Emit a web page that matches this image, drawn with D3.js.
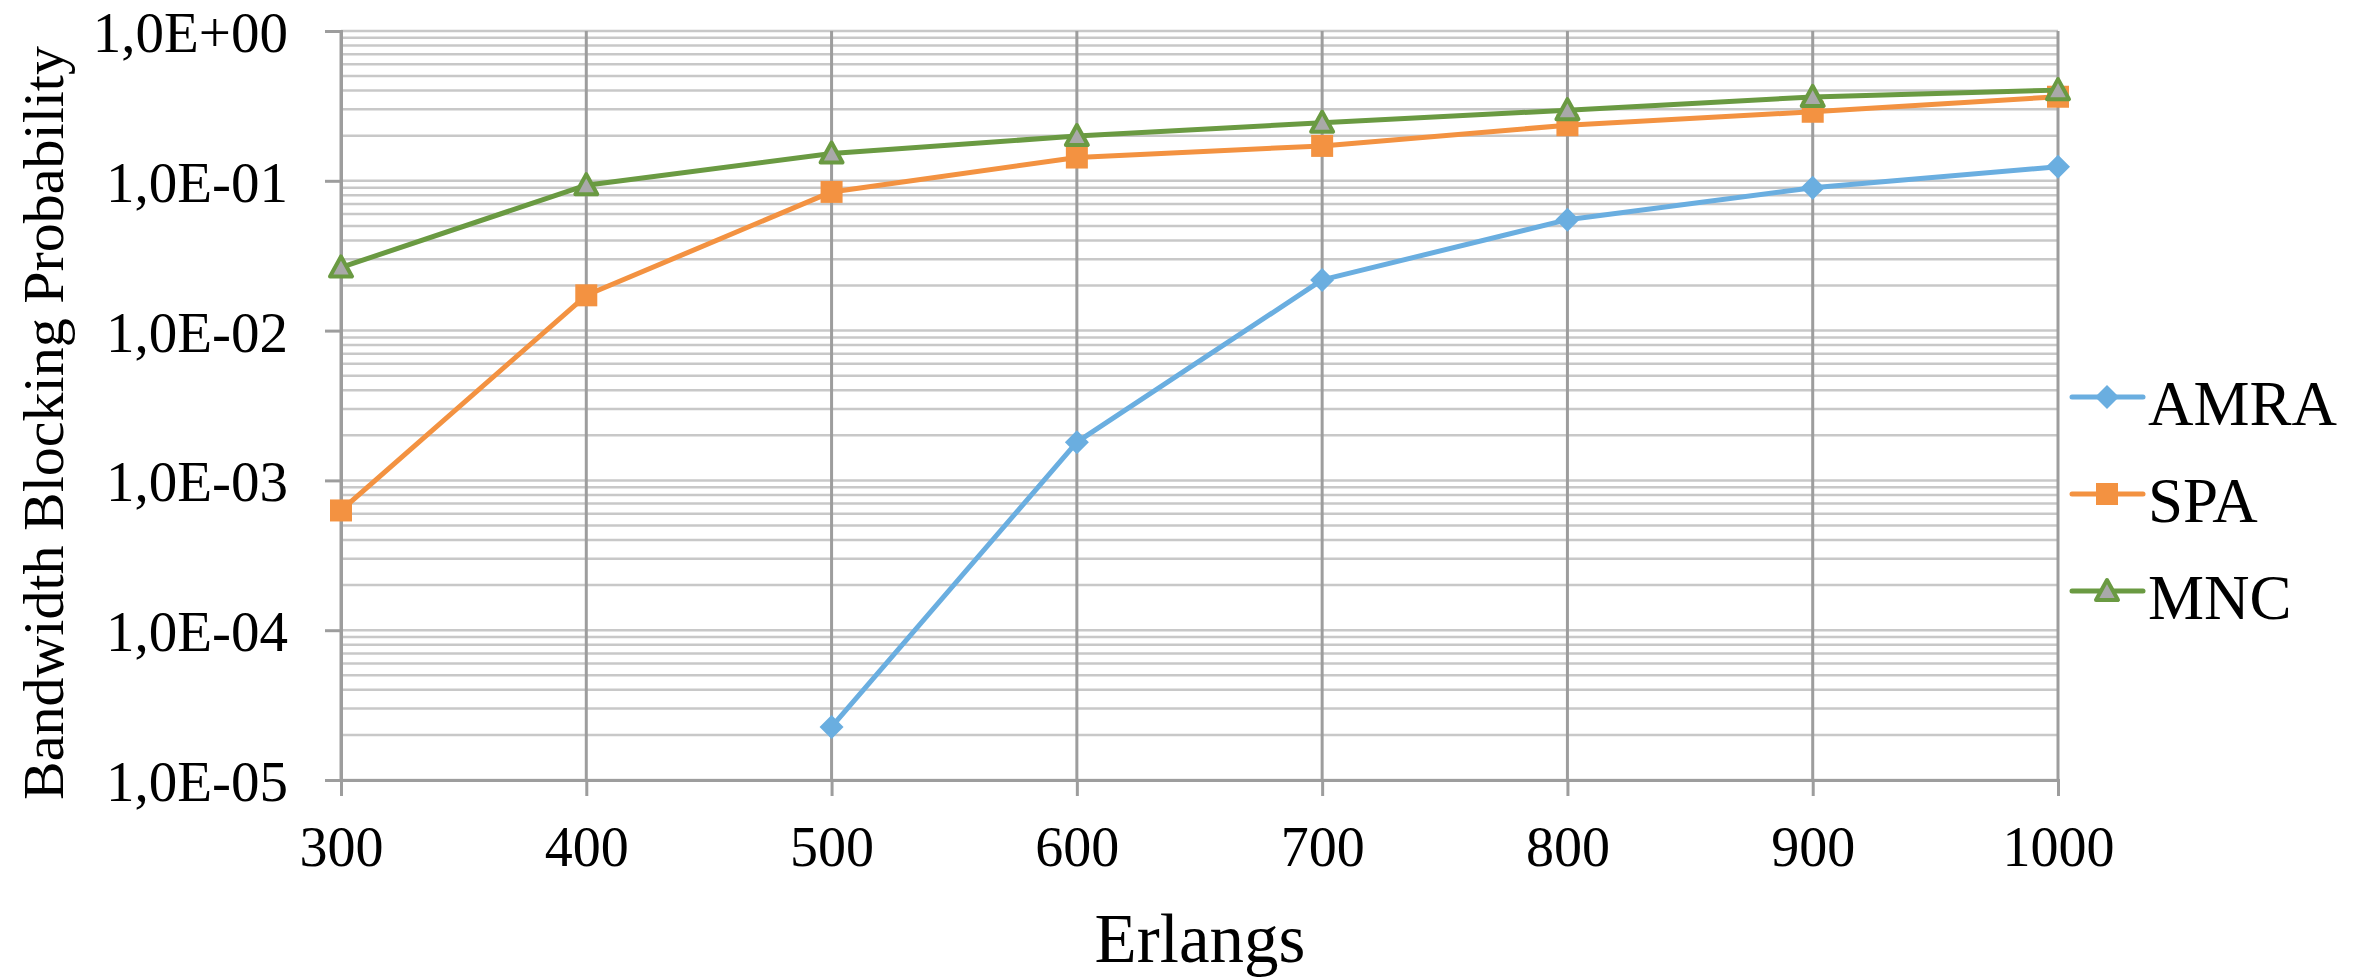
<!DOCTYPE html>
<html>
<head>
<meta charset="utf-8">
<script src="https://cdn.jsdelivr.net/npm/d3@7/dist/d3.min.js"></script>
<style>
  html, body { margin: 0; padding: 0; background: #fff; }
  svg { display: block; font-family: "Liberation Serif", "Times New Roman", serif; }
</style>
</head>
<body>
<svg id="chart" width="2369" height="980"></svg>
<script>
// data
const erlangs = [300, 400, 500, 600, 700, 800, 900, 1000];
const amra = [null, null, 2.26e-5, 1.8e-3, 0.0218, 0.055, 0.09, 0.124];
const spa = [6.3e-4, 0.0172, 0.0843, 0.143, 0.171, 0.235, 0.289, 0.364];
const mnc = [0.0264, 0.0935, 0.152, 0.199, 0.244, 0.296, 0.363, 0.403];
const yDecades = [1e-5, 1e-4, 1e-3, 1e-2, 1e-1, 1];

const series = [
  { name: "AMRA", values: amra, color: "#6aaee0", marker: "diamond" },
  { name: "SPA", values: spa, color: "#f39241", marker: "square" },
  { name: "MNC", values: mnc, color: "#6a9a42", marker: "triangle" },
];

const svg = d3.select("#chart");

// plot area
const plotL = 341, plotR = 2058, plotT = 31, plotB = 780;

const x = d3.scaleLinear().domain([300, 1000]).range([plotL, plotR]);
const y = d3.scaleLog().domain([1e-5, 1]).range([plotB, plotT]);

// minor values 2..9 x 10^k for gridlines
const minor = [];
for (let k = -5; k < 0; k++) {
  for (let m = 2; m <= 9; m++) minor.push(m * Math.pow(10, k));
}

function fmtE(d) {
  const e = Math.round(Math.log10(d));
  return "1,0E" + (e < 0 ? "-" : "+") + String(Math.abs(e)).padStart(2, "0");
}

// horizontal gridlines (light)
svg.append("g")
  .selectAll("line")
  .data(minor.concat(yDecades))
  .join("line")
  .attr("x1", plotL).attr("x2", plotR)
  .attr("y1", (d) => y(d)).attr("y2", (d) => y(d))
  .attr("stroke", "#c8c8c8")
  .attr("stroke-width", 2.5);

// vertical gridlines (darker)
svg.append("g")
  .selectAll("line")
  .data(erlangs)
  .join("line")
  .attr("x1", (d) => x(d)).attr("x2", (d) => x(d))
  .attr("y1", plotT).attr("y2", plotB)
  .attr("stroke", "#9d9d9d")
  .attr("stroke-width", 3);

// y axis
const yAxis = svg.append("g")
  .attr("transform", `translate(${plotL},0)`)
  .call(d3.axisLeft(y).tickValues(yDecades).tickFormat(fmtE).tickSize(16).tickPadding(37));
yAxis.select(".domain").attr("stroke", "#9d9d9d").attr("stroke-width", 3);
yAxis.selectAll(".tick line").attr("stroke", "#9d9d9d").attr("stroke-width", 3);
yAxis.selectAll(".tick text")
  .attr("font-family", "Liberation Serif")
  .attr("font-size", 57)
  .attr("fill", "#000")
  .attr("dy", "0.36em");

// x axis
const xAxis = svg.append("g")
  .attr("transform", `translate(0,${plotB})`)
  .call(d3.axisBottom(x).tickValues(erlangs).tickFormat(d3.format("d")).tickSize(16).tickPadding(30));
xAxis.select(".domain").attr("stroke", "#9d9d9d").attr("stroke-width", 3);
xAxis.selectAll(".tick line").attr("stroke", "#9d9d9d").attr("stroke-width", 3);
xAxis.selectAll(".tick text")
  .attr("font-family", "Liberation Serif")
  .attr("font-size", 56)
  .attr("fill", "#000")
  .attr("dy", "0.71em");

// axis titles
svg.append("text")
  .attr("x", 1200).attr("y", 962)
  .attr("text-anchor", "middle")
  .attr("font-size", 69)
  .text("Erlangs");

svg.append("text")
  .attr("transform", "translate(63,423) rotate(-90)")
  .attr("text-anchor", "middle")
  .attr("font-size", 58)
  .text("Bandwidth Blocking Probability");

// marker shapes
function drawMarker(sel, kind, color) {
  if (kind === "diamond") {
    sel.append("path")
      .attr("d", "M0,-12L12,0L0,12L-12,0Z")
      .attr("fill", color);
  } else if (kind === "square") {
    sel.append("rect")
      .attr("x", -11).attr("y", -11)
      .attr("width", 22).attr("height", 22)
      .attr("fill", color);
  } else {
    sel.append("path")
      .attr("d", "M0,-11L11,9L-11,9Z")
      .attr("fill", "#a9a9a9")
      .attr("stroke", color)
      .attr("stroke-width", 4)
      .attr("stroke-linejoin", "round");
  }
}

const line = d3.line()
  .defined((d) => d.v != null)
  .x((d) => x(d.x))
  .y((d) => y(d.v));

series.forEach((s) => {
  const pts = erlangs.map((e, i) => ({ x: e, v: s.values[i] }));
  svg.append("path")
    .datum(pts)
    .attr("d", line)
    .attr("fill", "none")
    .attr("stroke", s.color)
    .attr("stroke-width", 5)
    .attr("stroke-linejoin", "round");

  svg.append("g")
    .selectAll("g")
    .data(pts.filter((d) => d.v != null))
    .join("g")
    .attr("transform", (d) => `translate(${x(d.x)},${y(d.v)})`)
    .each(function () { drawMarker(d3.select(this), s.marker, s.color); });
});

// legend
const legend = svg.append("g");
series.forEach((s, i) => {
  const ly = 397 + i * 97;
  const g = legend.append("g").attr("transform", `translate(2072,${ly})`);
  g.append("line")
    .attr("x1", 0).attr("x2", 71)
    .attr("stroke", s.color)
    .attr("stroke-width", 5)
    .attr("stroke-linecap", "round");
  const m = g.append("g").attr("transform", "translate(35,0)");
  drawMarker(m, s.marker, s.color);
  g.append("text")
    .attr("x", 76).attr("y", 28)
    .attr("font-size", 63)
    .text(s.name);
});
</script>
</body>
</html>
